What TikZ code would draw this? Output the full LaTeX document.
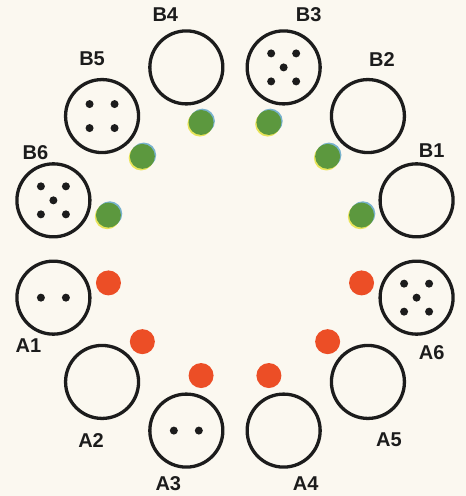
\documentclass[tikz,border=0pt]{standalone}
\usepackage{fontspec}
\setmainfont{Liberation Sans}
\usepackage{xcolor}
\definecolor{bgCream}{RGB}{251,248,240}
\definecolor{ptGreen}{RGB}{92,152,62}
\definecolor{ptCyan}{RGB}{120,178,205}
\definecolor{ptYellow}{RGB}{232,228,90}
\definecolor{ptRed}{RGB}{236,78,38}
\definecolor{inkBlack}{RGB}{28,28,28}
\usetikzlibrary{calc}

\begin{document}
\begin{tikzpicture}[
  hole/.style={circle,draw=inkBlack,line width=3.3pt,minimum size=73pt,inner sep=0pt},
  tag/.style={font=\fontsize{20}{22}\selectfont\bfseries,text=inkBlack,inner sep=0pt},
  pip/.style={circle,fill=inkBlack,minimum size=8pt,inner sep=0pt},
  stoneA/.style={circle,fill=ptRed,minimum size=25pt,inner sep=0pt},
  stoneB/.style={circle,fill=ptGreen,minimum size=25pt,inner sep=0pt},
  x=1pt,y=1pt]

  \fill[bgCream] (-235,-247) rectangle (231,249);
  \useasboundingbox (-235,-247) rectangle (231,249);

  % holes with their names
  \foreach \ang/\nm/\dx/\dy in {105/B4/-21/53,75/B3/25/53,45/B2/14/57,15/B1/15/50,
      165/B6/-18/48,135/B5/-10/57,-15/A6/15/-55,-45/A5/21/-58,-75/A4/22/-53,
      -105/A3/-18/-53,-135/A2/-11/-59,-165/A1/-25/-48}{
    \node[hole] (\nm) at (\ang:188) {};
    \node[tag] (t\nm) at ($(\nm)+(\dx,\dy)$) {\nm};
  }

  % green stones (B side)
  \foreach \ang/\nm in {105/B4,75/B3,45/B2,15/B1,165/B6,135/B5}{
    \fill[ptCyan] ($(\ang:131)+(1.3,1.3)$) circle (12.5);
    \fill[ptYellow] ($(\ang:131)+(-1.2,-1.6)$) circle (12.5);
    \node[stoneB] (s\nm) at (\ang:131) {};
  }

  % red stones (A side)
  \foreach \ang/\nm in {-15/A6,-45/A5,-75/A4,-105/A3,-135/A2,-165/A1}
    \node[stoneA] (s\nm) at (\ang:131) {};

  % pips
  \foreach \nm in {A1,A3}
    \foreach \px in {-12.5,12.5}
      \node[pip] at ($(\nm)+(\px,0)$) {};
  \foreach \px/\py in {-12.5/12,12.5/12,-12.5/-12,12.5/-12}
    \node[pip] at ($(B5)+(\px,\py)$) {};
  \foreach \nm in {B3,B6,A6}
    \foreach \px/\py in {-12.5/14,12.5/14,0/0,-12.5/-14,12.5/-14}
      \node[pip] at ($(\nm)+(\px,\py)$) {};
\end{tikzpicture}
\end{document}
